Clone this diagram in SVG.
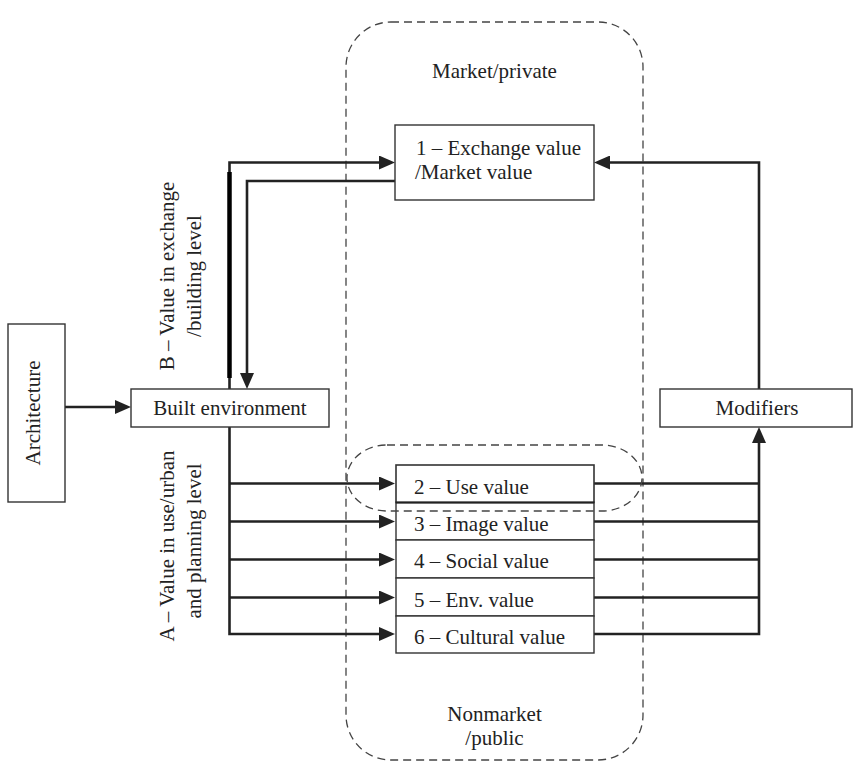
<svg xmlns="http://www.w3.org/2000/svg" width="853" height="769" viewBox="0 0 853 769">
<style>
.box{fill:#fff;stroke:#333;stroke-width:1.4}
.dash{fill:none;stroke:#444;stroke-width:1.3;stroke-dasharray:8 5}
.t{font-family:"Liberation Serif","Times New Roman",serif;font-size:21px;fill:#222}
.c{stroke:#222;stroke-width:2.6;fill:none}
</style>
<defs>
<marker id="ah" viewBox="0 0 16 14" refX="8" refY="7" markerWidth="16" markerHeight="14" markerUnits="userSpaceOnUse" orient="auto">
<path d="M0,0 L16,7 L0,14 z" fill="#222"/>
</marker>
</defs>
<rect class="dash" x="346" y="22" width="297" height="738" rx="45" ry="45"/>
<text class="t" x="494.5" y="78" text-anchor="middle">Market/private</text>
<text class="t" x="494.5" y="721" text-anchor="middle">Nonmarket</text>
<text class="t" x="494.5" y="745" text-anchor="middle">/public</text>
<g id="connectors">
<path class="c" d="M65,407 H123" marker-end="url(#ah)"/>
<path class="c" d="M229.5,389 V162.5 H387" marker-end="url(#ah)"/>
<path d="M229.5,172 V378" stroke="#000" stroke-width="4.5" fill="none"/>
<path class="c" d="M395,181 H247 V381" marker-end="url(#ah)"/>
<path class="c" d="M229.5,427 V634 H387" marker-end="url(#ah)"/>
<path class="c" d="M229.5,483.5 H387" marker-end="url(#ah)"/>
<path class="c" d="M229.5,521.5 H387" marker-end="url(#ah)"/>
<path class="c" d="M229.5,559.5 H387" marker-end="url(#ah)"/>
<path class="c" d="M229.5,597.5 H387" marker-end="url(#ah)"/>
<path class="c" d="M594,483.5 H759"/>
<path class="c" d="M594,521.5 H759"/>
<path class="c" d="M594,559.5 H759"/>
<path class="c" d="M594,597.5 H759"/>
<path class="c" d="M594,634 H759 V435" marker-end="url(#ah)"/>
<path class="c" d="M759,389 V162.5 H602" marker-end="url(#ah)"/>
</g>
<g id="architecture">
<rect class="box" x="8" y="324" width="57" height="178"/>
<text class="t" transform="translate(40,413) rotate(-90)" text-anchor="middle">Architecture</text>
</g>
<g id="built-environment">
<rect class="box" x="131" y="389" width="198" height="38"/>
<text class="t" x="230" y="415" text-anchor="middle">Built environment</text>
</g>
<g id="label-b">
<text class="t" transform="translate(174,276) rotate(-90)" text-anchor="middle">B – Value in exchange</text>
<text class="t" transform="translate(201,276) rotate(-90)" text-anchor="middle">/building level</text>
</g>
<g id="label-a">
<text class="t" transform="translate(174,546) rotate(-90)" text-anchor="middle">A – Value in use/urban</text>
<text class="t" transform="translate(201,541) rotate(-90)" text-anchor="middle">and planning level</text>
</g>
<g id="exchange-value">
<rect class="box" x="395" y="125" width="199" height="75"/>
<text class="t" x="416" y="155">1 – Exchange value</text>
<text class="t" x="415" y="179">/Market value</text>
</g>
<g id="image-value">
<rect class="box" x="396" y="502" width="198" height="38"/>
<text class="t" x="414" y="531">3 – Image value</text>
</g>
<g id="social-value">
<rect class="box" x="396" y="540" width="198" height="38"/>
<text class="t" x="414" y="568">4 – Social value</text>
</g>
<g id="env-value">
<rect class="box" x="396" y="578" width="198" height="38"/>
<text class="t" x="414" y="607">5 – Env. value</text>
</g>
<g id="cultural-value">
<rect class="box" x="396" y="616" width="198" height="37"/>
<text class="t" x="414" y="644">6 – Cultural value</text>
</g>
<g id="use-value">
<rect class="box" x="396" y="465" width="198" height="37.5" style="stroke-width:1.6"/>
<line x1="396" y1="502.5" x2="594" y2="502.5" stroke="#222" stroke-width="2"/>
<text class="t" x="414" y="494">2 – Use value</text>
</g>
<rect class="dash" x="347" y="445" width="295" height="66" rx="40" ry="33"/>
<g id="modifiers">
<rect class="box" x="660" y="389" width="192" height="38"/>
<text class="t" x="757" y="415" text-anchor="middle">Modifiers</text>
</g>
</svg>
